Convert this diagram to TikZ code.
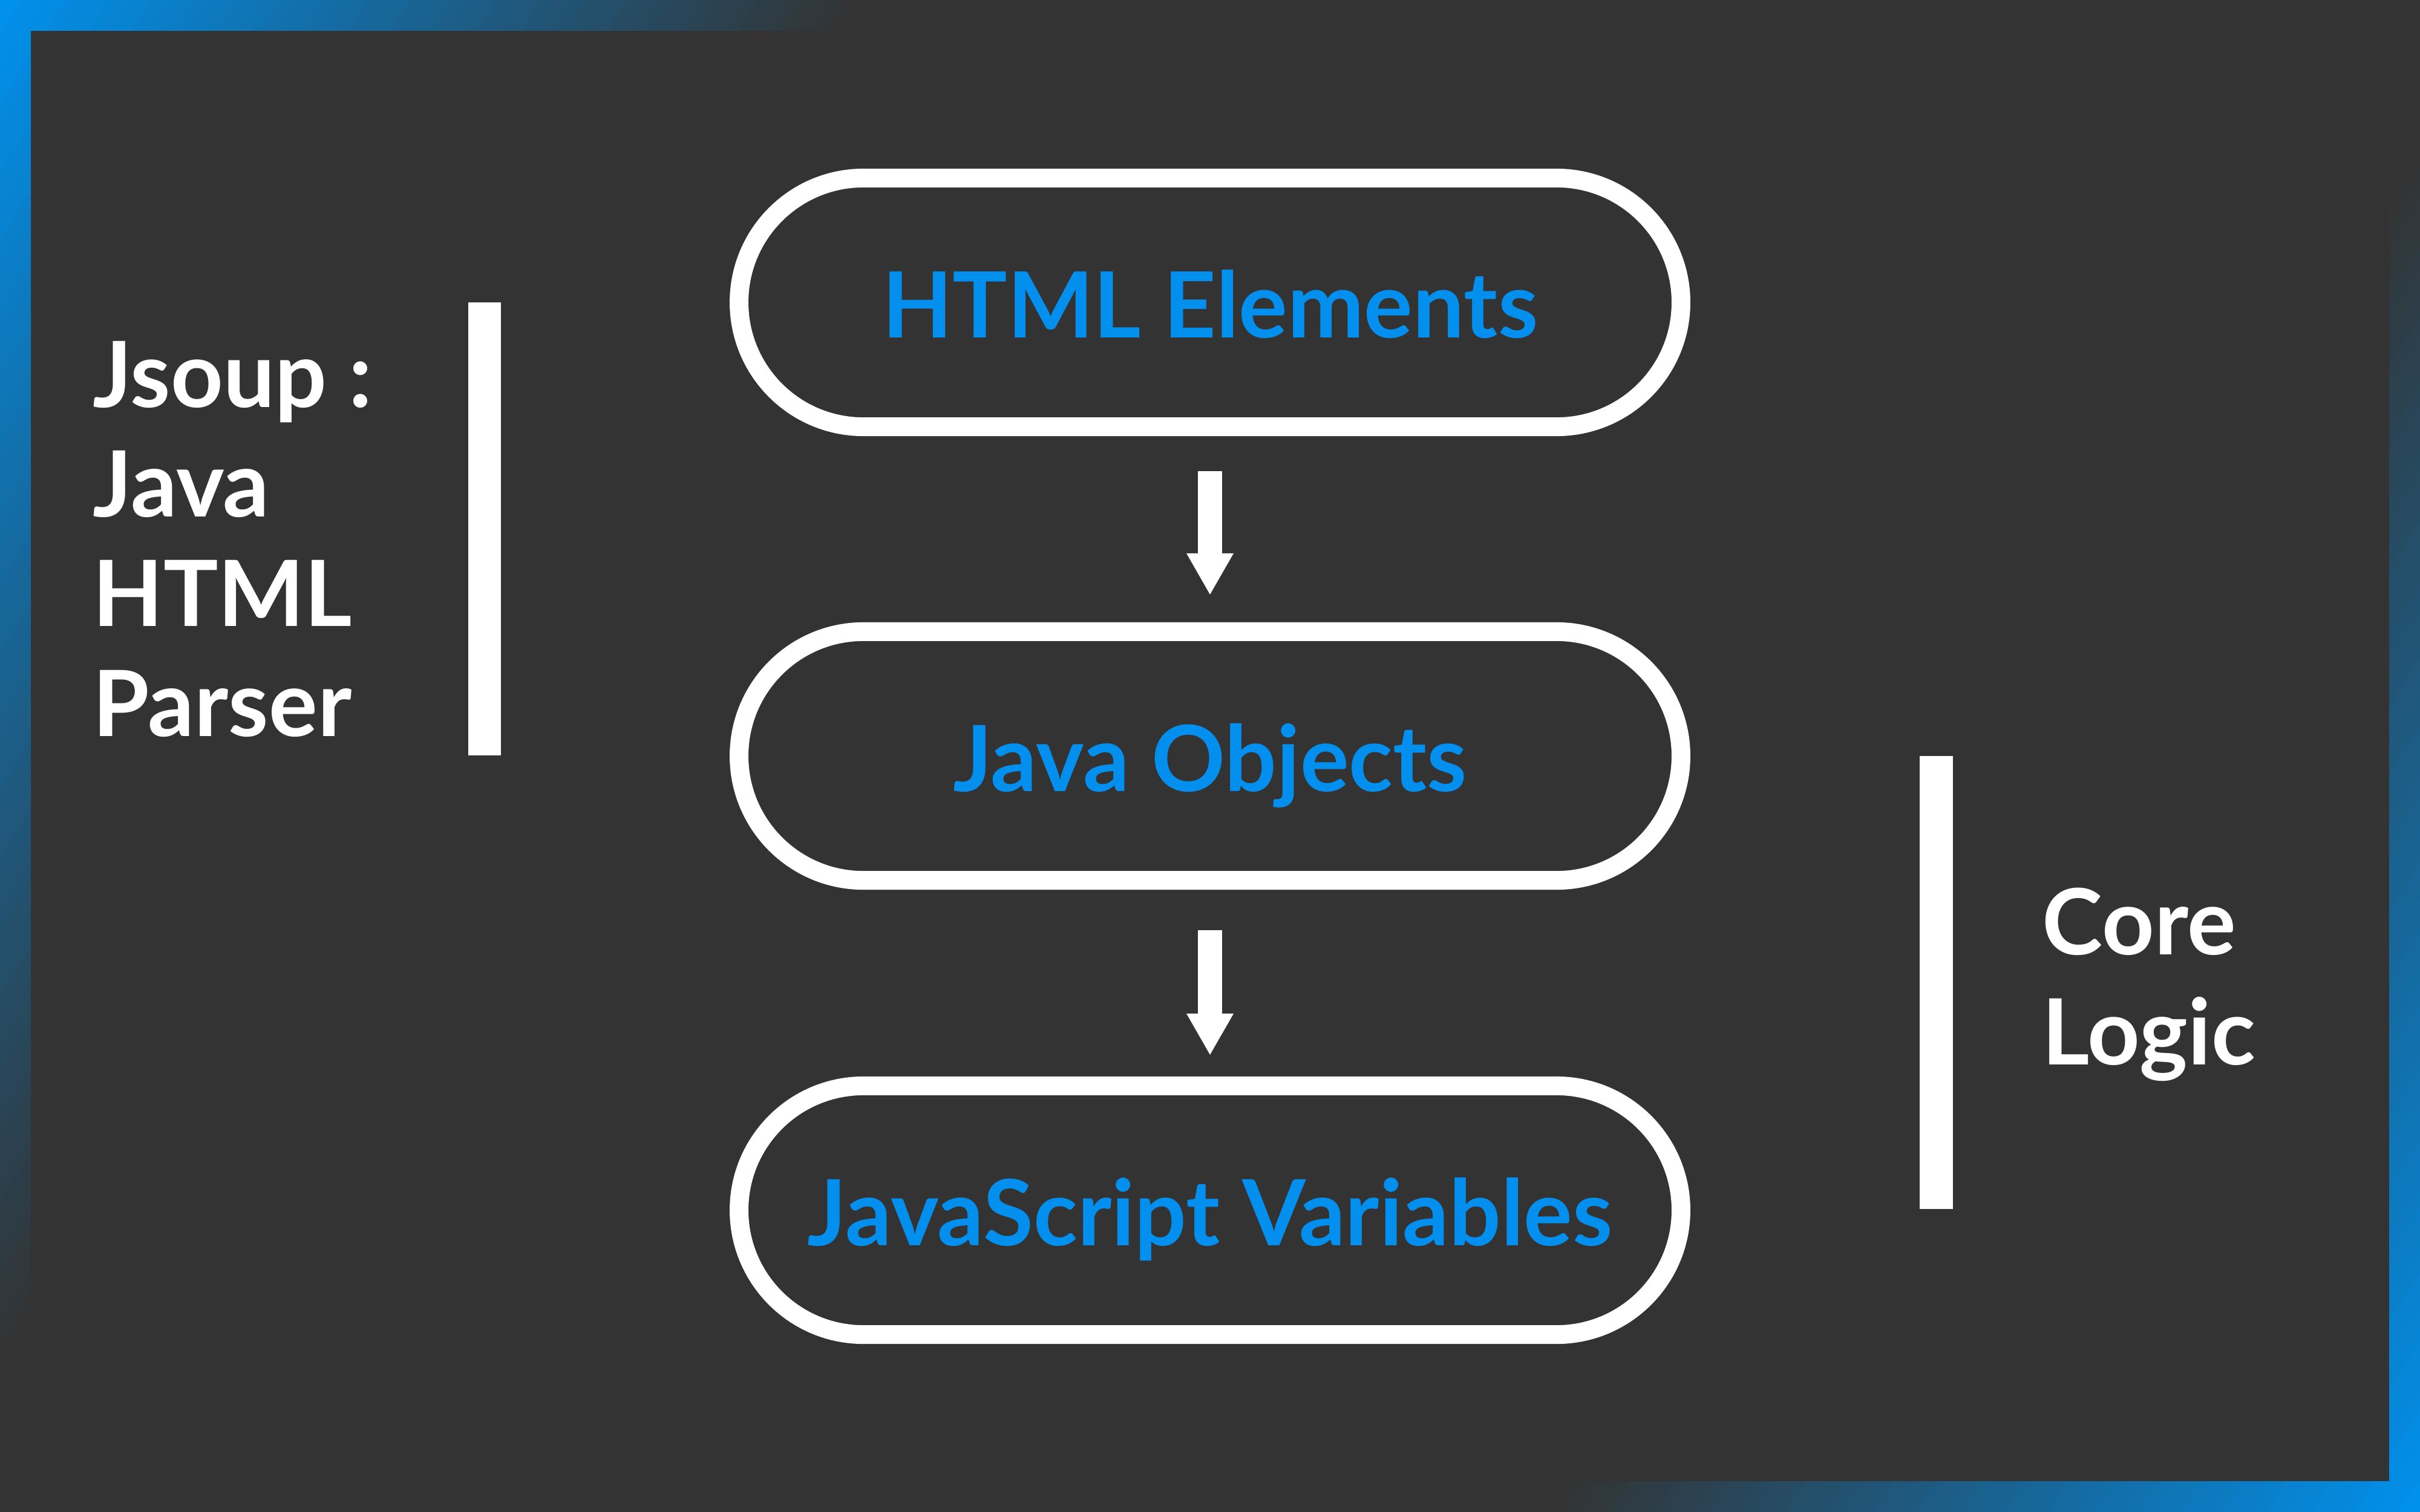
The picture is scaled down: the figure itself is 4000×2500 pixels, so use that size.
\documentclass[tikz,border=0pt]{standalone}
\usepackage{fontspec}
\setmainfont{Lato}
\usetikzlibrary{arrows.meta,calc}
\definecolor{bgdark}{HTML}{333333}
\definecolor{cornerblue}{HTML}{0092EF}
\definecolor{textblue}{HTML}{038FEE}
\begin{document}
\begin{tikzpicture}[x=0.01cm, y=-0.01cm,
  pill/.style={draw=white, line width=0.31cm, rounded corners=2.055cm,
    minimum width=15.56cm, minimum height=4.11cm, inner sep=0pt,
    text=textblue, font=\bfseries\fontsize{42.97}{51.5}\selectfont,
    text height=1.17cm, text depth=0pt},
  sidetext/.style={text=white, font=\bfseries\fontsize{42.97}{51.5}\selectfont,
    inner sep=0pt, align=left},
  sidebar/.style={fill=white, draw=none, inner sep=0pt, outer sep=0pt},
  bigarrow/.style={draw=white, line width=0.4cm,
    -{Triangle[width=0.78cm, length=0.68cm, line width=0pt]}}
]
\useasboundingbox (0,0) rectangle (4000,2500);
\fill[bgdark] (0,0) rectangle (4000,2500);
% top-left gradient frame
\begin{scope}
  \clip (0,0) rectangle (4000,51) (0,51) rectangle (51,2500);
  \foreach \i in {0,...,79}{
    \pgfmathsetmacro\ta{\i/80}
    \pgfmathsetmacro\tb{(\i+1.05)/80}
    \pgfmathtruncatemacro\pc{100*(1-(\i+0.5)/80)}
    \fill[cornerblue!\pc!bgdark] (\ta*1430,0) -- (\tb*1430,0) -- (0,\tb*2270) -- (0,\ta*2270) -- cycle;
  }
\end{scope}
% bottom-right gradient frame
\begin{scope}
  \clip (0,2449) rectangle (4000,2500) (3949,0) rectangle (4000,2449);
  \foreach \i in {0,...,79}{
    \pgfmathsetmacro\ta{\i/80}
    \pgfmathsetmacro\tb{(\i+1.05)/80}
    \pgfmathtruncatemacro\pc{100*(1-(\i+0.5)/80)}
    \fill[cornerblue!\pc!bgdark] (4000-\ta*1447,2500) -- (4000-\tb*1447,2500) -- (4000,2500-\tb*2260) -- (4000,2500-\ta*2260) -- cycle;
  }
\end{scope}

% pills
\node[pill] (p1) at (2000,500) {HTML Elements};
\node[pill] (p2) at (2000,1250) {Java Objects};
\node[pill] (p3) at (2000,2001) {JavaScript Variables};

% arrows
\draw[bigarrow] ($(p1.south)+(0,58)$) -- ($(p2.north)+(0,-46)$);
\draw[bigarrow] ($(p2.south)+(0,67)$) -- ($(p3.north)+(0,-36)$);

% side bars
\node[sidebar, minimum width=0.54cm, minimum height=7.49cm] (lbar) at (801,874.5) {};
\node[sidebar, minimum width=0.55cm, minimum height=7.49cm] (rbar) at (3200.5,1624.5) {};

% side texts (base anchor = baseline of the last line)
\node[sidetext, anchor=base west] (ltext) at (153,1217) {Jsoup :\\Java\\HTML\\Parser};
\node[sidetext, anchor=base west] (rtext) at (3375,1760) {Core\\Logic};
\end{tikzpicture}
\end{document}
